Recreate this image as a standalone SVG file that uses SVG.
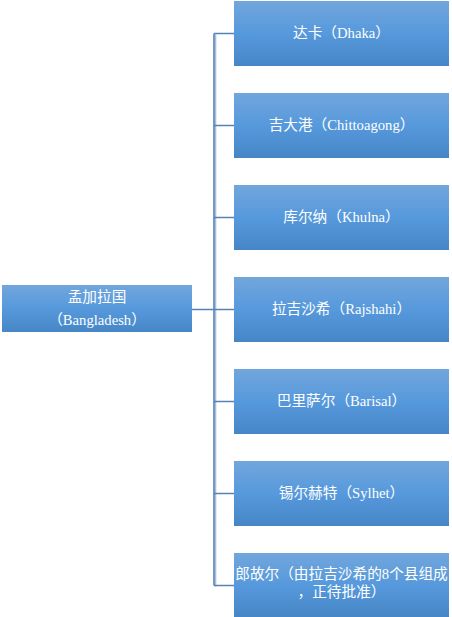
<svg xmlns="http://www.w3.org/2000/svg" width="452" height="617" viewBox="0 0 452 617">
<defs>
<linearGradient id="g" x1="0" y1="0" x2="0" y2="1">
<stop offset="0" stop-color="#72a6dc"/>
<stop offset="0.5" stop-color="#5699dc"/>
<stop offset="1" stop-color="#4686c6"/>
</linearGradient>
</defs>
<style>
.box{fill:url(#g);}
.t{font-family:"Liberation Serif","Noto Sans CJK SC",serif;font-size:14.67px;fill:#ffffff;text-anchor:middle;dominant-baseline:central;}
.ln{fill:none;stroke:#5682b5;stroke-width:1.6;}
.sh{fill:none;stroke:#a9c1db;stroke-width:1.6;}
</style>
<rect width="452" height="617" fill="#ffffff"/>
<g id="connectors">
<path class="sh" d="M215.5 34.5 V586.5"/>
<path class="ln" d="M192 309.5 H214 M214 33.5 V585.5 M214 33.5 H234 M214 125.5 H234 M214 217.5 H234 M214 309.5 H234 M214 401.5 H234 M214 493.5 H234 M214 585.5 H234"/>
</g>
<g id="root">
<rect class="box" x="2" y="285" width="190" height="47"/>
<text class="t" x="97" y="297">孟加拉国</text>
<text class="t" x="97" y="320">（Bangladesh）</text>
</g>
<g id="dhaka">
<rect class="box" x="234" y="1" width="215" height="65"/>
<text class="t" x="341.5" y="32.5">达卡（Dhaka）</text>
</g>
<g id="chittagong">
<rect class="box" x="234" y="93" width="215" height="65"/>
<text class="t" x="341.5" y="124.5">吉大港（Chittoagong）</text>
</g>
<g id="khulna">
<rect class="box" x="234" y="185" width="215" height="65"/>
<text class="t" x="341.5" y="216.5">库尔纳（Khulna）</text>
</g>
<g id="rajshahi">
<rect class="box" x="234" y="277" width="215" height="65"/>
<text class="t" x="341.5" y="308.5">拉吉沙希（Rajshahi）</text>
</g>
<g id="barisal">
<rect class="box" x="234" y="369" width="215" height="65"/>
<text class="t" x="341.5" y="400.5">巴里萨尔（Barisal）</text>
</g>
<g id="sylhet">
<rect class="box" x="234" y="461" width="215" height="65"/>
<text class="t" x="341.5" y="492.5">锡尔赫特（Sylhet）</text>
</g>
<g id="rangpur">
<rect class="box" x="234" y="553" width="215" height="64"/>
<text class="t" x="341.5" y="574">郎故尔（由拉吉沙希的8个县组成</text>
<text class="t" x="341.5" y="592">，正待批准）</text>
</g>
</svg>
